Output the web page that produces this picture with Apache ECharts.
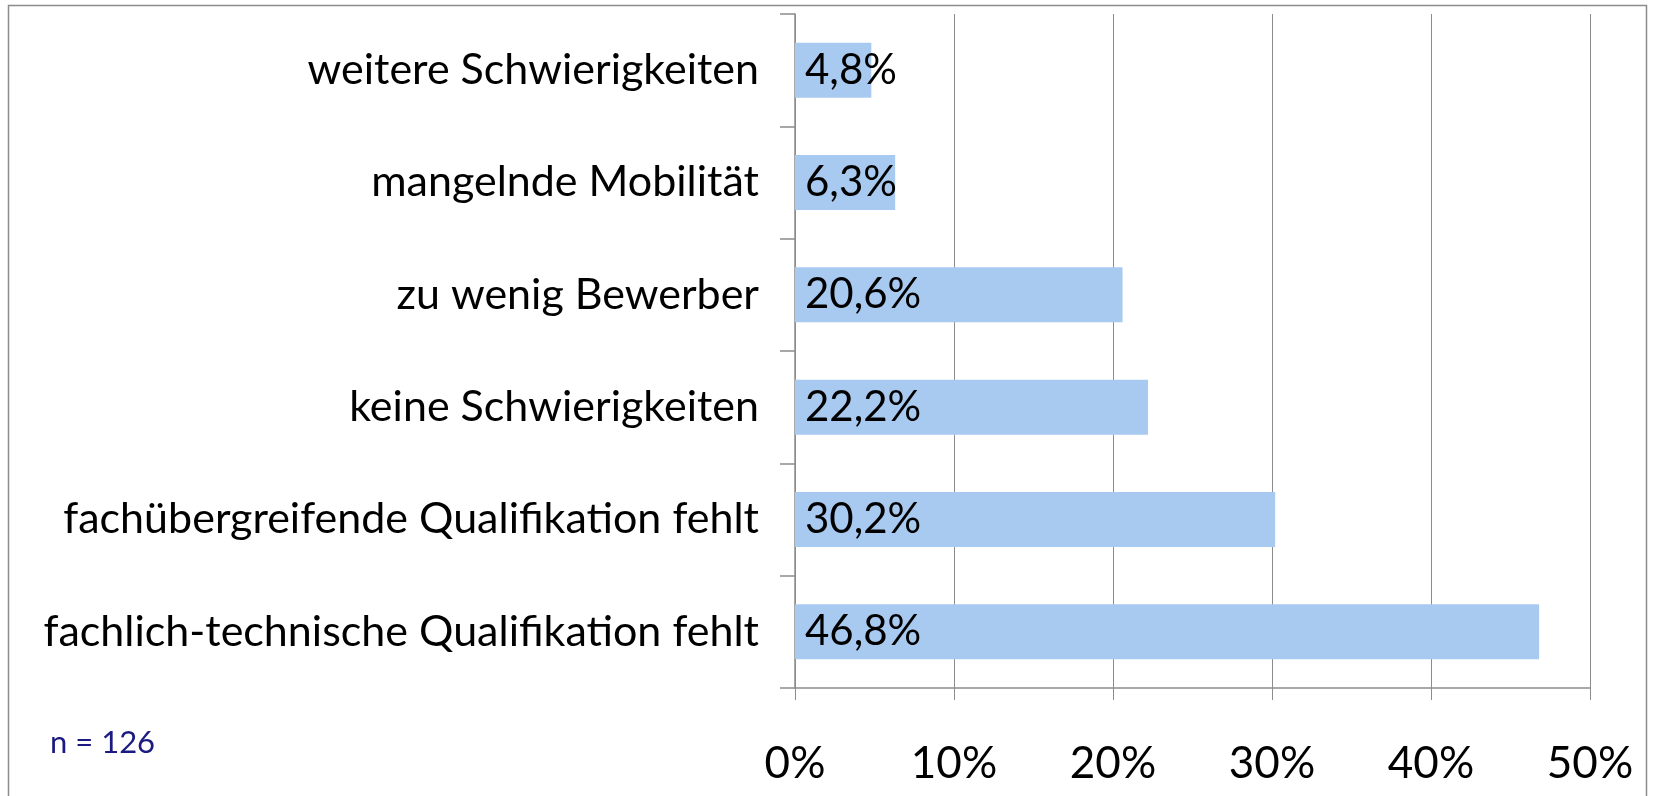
<!DOCTYPE html>
<html>
<head>
<meta charset="utf-8">
<script src="https://cdn.jsdelivr.net/npm/echarts@6/dist/echarts.min.js"></script>
<style>
html, body { margin: 0; padding: 0; background: #fff; }
#chart { width: 1660px; height: 796px; }
</style>
</head>
<body>
<div id="chart"></div>
<script>
// categories from bottom to top (echarts draws the first category at the bottom)
const categories = [
    'fachlich-technische Qualifikation fehlt',
    'fachübergreifende Qualifikation fehlt',
    'keine Schwierigkeiten',
    'zu wenig Bewerber',
    'mangelnde Mobilität',
    'weitere Schwierigkeiten'
];
const values = [46.8, 30.2, 22.2, 20.6, 6.3, 4.8];
const xTicks = [0, 10, 20, 30, 40, 50];
const noteText = 'n = 126';

const font = 'Lato';
const chart = echarts.init(document.getElementById('chart'));

chart.setOption({
    animation: false,
    textStyle: { fontFamily: font },
    grid: {
        left: 795,
        right: 70,
        top: 14,
        bottom: 108
    },
    xAxis: {
        type: 'value',
        min: xTicks[0],
        max: xTicks[xTicks.length - 1],
        interval: 10,
        axisLine: { show: true, lineStyle: { color: '#8c8c8c', width: 1.5 } },
        axisTick: { show: true, length: 12, lineStyle: { color: '#8c8c8c' } },
        splitLine: { show: true, lineStyle: { color: '#8c8c8c', width: 1 } },
        axisLabel: {
            margin: 54,
            fontSize: 44,
            color: '#000',
            fontFamily: font,
            formatter: '{value}%'
        }
    },
    yAxis: {
        type: 'category',
        data: categories,
        axisLine: { show: true, lineStyle: { color: '#8c8c8c', width: 1.5 } },
        axisTick: { show: true, length: 15, lineStyle: { color: '#8c8c8c', width: 1.5 } },
        splitLine: { show: false },
        axisLabel: {
            margin: 36,
            fontSize: 43,
            color: '#000',
            fontFamily: font
        }
    },
    series: [{
        type: 'bar',
        data: values,
        barCategoryGap: '51%',
        itemStyle: { color: '#a8caf0' },
        label: {
            show: true,
            position: 'insideLeft',
            distance: 10,
            fontSize: 42,
            color: '#000',
            fontFamily: font,
            formatter: p => p.value.toFixed(1).replace('.', ',') + '%'
        }
    }],
    graphic: [
        {
            type: 'rect',
            shape: { x: 8.5, y: 5.5, width: 1638, height: 800 },
            style: { fill: 'none', stroke: '#8c8c8c', lineWidth: 1.5 },
            silent: true
        },
        {
            type: 'text',
            left: 50,
            top: 727,
            style: {
                text: noteText,
                fontSize: 31,
                fontFamily: font,
                fill: '#1a1a80'
            }
        }
    ]
});
</script>
</body>
</html>
